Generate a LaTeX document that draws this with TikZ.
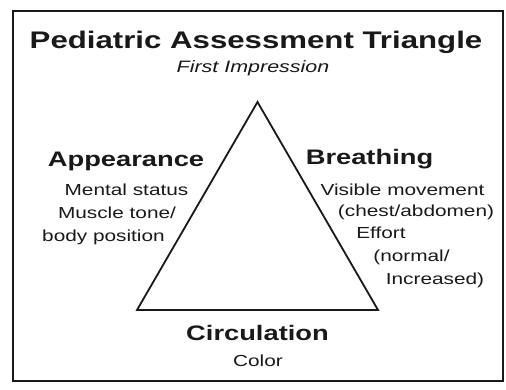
\documentclass[tikz,border=0pt]{standalone}
\usepackage{fontspec}
\setmainfont{Liberation Sans}[FakeStretch=1.3]
\definecolor{ink}{gray}{0.1}
\begin{document}
\begin{tikzpicture}[x=1pt,y=-1pt,
  every node/.style={inner sep=0pt, anchor=base, text=ink},
  titlet/.style={font=\fontsize{24}{28}\selectfont\bfseries},
  subt/.style={font=\fontsize{16.5}{19}\selectfont\itshape},
  headt/.style={font=\fontsize{21}{25}\selectfont\bfseries},
  bodyt/.style={font=\fontsize{16}{19}\selectfont},
  frame/.style={draw=ink, line width=2pt},
  tri/.style={draw=ink, line width=1.8pt, line join=miter}]
\useasboundingbox (0,0) rectangle (506,389);
\draw[frame] (13,11) rectangle (503,381);
\coordinate (apex) at (257.5,102);
\coordinate (bl) at (137,310);
\coordinate (br) at (378,310);
\draw[tri] (apex) -- (br) -- (bl) -- cycle;
\node[titlet] (title) at (256,48) {Pediatric Assessment Triangle};
\node[subt] (first) at (253,72) {First Impression};
\node[headt] (app) at (126,166) {Appearance};
\node[bodyt] (app1) at (126.5,195) {Mental status};
\node[bodyt] (app2) at (117,218) {Muscle tone/};
\node[bodyt] (app3) at (103.5,241.5) {body position};
\node[headt] (bre) at (369.5,164.5) {Breathing};
\node[bodyt] (bre1) at (402.5,195) {Visible movement};
\node[bodyt] (bre2) at (416,216.5) {(chest/abdomen)};
\node[bodyt] (bre3) at (381,238.5) {Effort};
\node[bodyt] (bre4) at (411.5,261.5) {(normal/};
\node[bodyt] (bre5) at (435,284) {Increased)};
\node[headt] (cir) at (257.5,340) {Circulation};
\node[bodyt] (cir1) at (258,366) {Color};
\end{tikzpicture}
\end{document}
